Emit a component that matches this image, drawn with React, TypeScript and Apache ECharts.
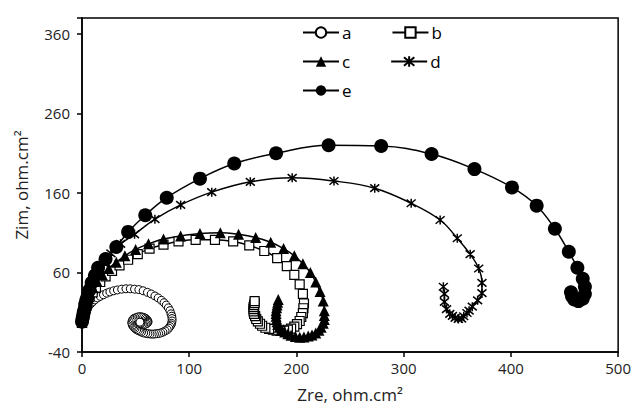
import React, { useEffect, useRef } from "react";
import * as echarts from "echarts";

// Nyquist data [Zre, Zim] in ohm.cm2
const seriesA: number[][] = [
  [0, -3], [0.5, 0], [1, 3], [1.5, 6], [2.5, 9], [3.5, 12], [5, 15], [6.5, 18], [8, 20.5], [10, 23], [12, 25.5],
  [14.5, 28], [17, 30], [20, 32], [23, 34], [26, 35.5], [29.5, 37], [33, 38], [37, 39], [41, 39.5], [45, 39.5],
  [49, 39], [53, 38.5], [57, 37], [61, 35], [64.5, 33], [68, 30.5], [71, 28], [74, 25], [76.5, 22], [78.5, 19],
  [80.5, 15.5], [82, 12], [83, 8], [83.7, 5], [84, 2], [84, -1], [83.5, -4], [83, -6], [82, -8], [81, -10],
  [79.5, -12], [77.5, -13.5], [75.5, -15], [73.5, -16], [71.5, -16.7], [69.5, -17], [67.5, -17.4], [65.5, -17.5],
  [63.5, -17.3], [61.5, -17], [59.5, -16.5], [57.5, -16], [55.5, -15], [54, -14], [52.5, -13], [51, -12],
  [49.5, -10.5], [48.5, -9], [47.5, -7.5], [47, -6], [46.5, -4], [46.5, -2.5], [47, -0.5], [47.5, 1], [48.5, 2.2],
  [50, 3], [51.5, 3.8], [53, 4.2], [54.5, 4.3], [56, 4], [57.5, 3.4], [59, 2.5], [60, 1.3], [61, 0], [61.5, -1.3],
  [61.5, -2.5], [61, -3.6], [60, -4.5], [59, -5.1], [57.5, -5.5], [56.3, -5.2], [55, -4.5], [54.4, -3.5],
  [54, -2.5],
];
const seriesB: number[][] = [
  [0, -3], [0.5, 2], [1, 7], [2, 12], [3, 17], [5, 23], [7, 29], [10, 35], [13, 41], [17, 48], [22, 55], [28, 62],
  [35, 69], [43, 76], [52, 83], [63, 90], [76, 95], [90, 99], [106, 101], [124, 101], [141, 99], [156, 94],
  [170, 87], [182, 78], [191, 68], [198, 57], [203, 45], [206, 33], [207, 21], [206.5, 15], [206, 9], [204.5, 4],
  [203, -1], [200.5, -5], [198, -8], [195, -10.5], [192, -12], [188.5, -13], [185, -13.5], [181.5, -13], [178, -12],
  [174.5, -11], [171, -9.5], [168, -7], [166, -4.5], [164, -1.5], [162.5, 1.5], [161.5, 5], [160.5, 8], [160, 11],
  [160, 14], [160, 16.5], [160.5, 19], [161, 21.5], [161, 24],
];
const seriesC: number[][] = [
  [0, -3], [0.5, 3], [1, 9], [2, 15], [3, 21], [5, 27], [7, 34], [10, 41], [14, 49], [19, 57], [25, 65], [32, 73],
  [40, 81], [50, 89], [62, 96], [76, 102], [92, 106], [110, 109], [129, 110], [146, 108], [162, 104], [176, 98],
  [188, 90], [198, 81], [206, 71], [213, 60], [218, 48], [222, 36], [225, 24], [226, 12], [226, 6], [226, 1],
  [225, -4], [223, -9], [221, -12.5], [218, -16], [214.5, -18.5], [211, -20], [207, -21], [203, -21.5], [199, -20.5],
  [195, -19], [192, -17], [189, -15], [186.5, -12], [184, -9], [182.5, -5.5], [182, -2], [181.5, 1.5], [181, 5],
  [181, 8.5], [181, 12], [181.5, 15.5], [182, 19], [182.5, 22.5], [183, 26],
];
const seriesD: number[][] = [
  [0, -3], [0.5, 1], [1, 4], [1.5, 8], [2, 11], [3, 15], [3, 19], [4, 24], [5, 28], [7, 38], [10, 48], [14, 60],
  [20, 72], [27, 84], [36, 96], [49, 108], [68, 127], [92, 145], [121, 161], [157, 174], [196, 179], [235, 175],
  [273, 166], [307, 147], [334, 126], [350, 103], [362, 83], [370, 65], [373, 47], [373, 34], [369, 25], [364, 17],
  [361, 12], [359, 9], [356, 5], [354, 2], [351, 1.5], [348, 3], [345.5, 5.5], [343, 8], [340, 14], [338, 23],
  [338, 33], [337, 42],
];
const seriesE: number[][] = [
  [0, -2], [0.5, 2], [1, 5], [1.5, 9], [2, 12], [3, 16], [3, 20], [4, 25], [5, 29], [7, 38], [9, 47], [12, 56],
  [15, 66], [22, 77], [32, 92], [43, 111], [59, 132], [79, 154], [110, 178], [142, 197], [181, 210], [230, 220],
  [279, 219], [326, 209], [366, 190], [401, 167], [424, 144], [441, 115], [454, 86], [462, 66], [467, 52],
  [469, 42], [469, 33], [467, 27], [463, 24], [459, 26], [457, 30], [456, 35],
];
const xTicks = { min: 0, max: 500, step: 100 };
const yTicks = { min: -40, max: 380, step: 100 };

const FONT = "'Open Sans', 'Noto Sans', sans-serif";
const STAR = "path://M0,0L10,10M0,10L10,0M5,-1L5,11";

export default function App() {
  const ref = useRef<HTMLDivElement>(null);
  useEffect(() => {
    if (!ref.current) return;
    const chart = echarts.init(ref.current, undefined, { renderer: "svg" });
    const line = { color: "#000", width: 1.5 };
    const mk = (name: string, data: number[][], symbol: string, size: number, fill: string, bw: number) => ({
      name,
      type: "line",
      data,
      smooth: 0.4,
      symbol,
      symbolSize: size,
      showAllSymbol: true,
      lineStyle: line,
      itemStyle: { color: fill, borderColor: "#000", borderWidth: bw },
      emphasis: { disabled: true },
    });
    const legendBase = {
      left: 297,
      itemWidth: 36,
      itemHeight: 13,
      itemGap: 40,
      textStyle: { fontFamily: FONT, fontSize: 17, color: "#000", padding: [0, 0, 0, -2] },
    };
    chart.setOption({
      animation: false,
      backgroundColor: "#fff",
      grid: { left: 82, right: 14, top: 18, bottom: 58, show: true, borderColor: "#000", borderWidth: 1.5 },
      legend: [
        { ...legendBase, data: ["a", "b"], top: 19 },
        { ...legendBase, data: ["c", "d"], top: 48 },
        { ...legendBase, data: ["e"], top: 77 },
      ],
      xAxis: {
        type: "value",
        min: xTicks.min,
        max: xTicks.max,
        interval: xTicks.step,
        name: "Zre, ohm.cm²",
        nameLocation: "middle",
        nameGap: 34,
        nameTextStyle: { fontFamily: FONT, fontSize: 17, color: "#222" },
        axisLine: { onZero: false, lineStyle: { color: "#000", width: 1.5 } },
        axisTick: { length: 5, lineStyle: { color: "#000", width: 1.5 } },
        axisLabel: { fontFamily: FONT, fontSize: 15, color: "#222", margin: 8 },
        splitLine: { show: false },
      },
      yAxis: {
        type: "value",
        min: yTicks.min,
        max: yTicks.max,
        interval: yTicks.step,
        name: "Zim, ohm.cm²",
        nameLocation: "middle",
        nameGap: 52,
        nameTextStyle: { fontFamily: FONT, fontSize: 17, color: "#222" },
        axisLine: { onZero: false, lineStyle: { color: "#000", width: 1.5 } },
        axisTick: { length: 5, lineStyle: { color: "#000", width: 1.5 } },
        axisLabel: {
          fontFamily: FONT,
          fontSize: 15,
          color: "#222",
          margin: 12,
          formatter: (v: number) => ((v - yTicks.min) % yTicks.step === 0 ? String(v) : ""),
        },
        splitLine: { show: false },
      },
      series: [
        mk("a", seriesA, "circle", 8, "#fff", 1),
        mk("b", seriesB, "rect", 9, "#fff", 1.2),
        mk("c", seriesC, "triangle", 11, "#000", 0),
        mk("d", seriesD, STAR, 9, "rgba(0,0,0,0)", 1.5),
        mk("e", seriesE, "circle", 14, "#000", 0),
      ],
    });
    return () => chart.dispose();
  }, []);
  return (
    <div
      ref={ref}
      style={{ position: "fixed", left: 0, top: 0, width: 634, height: 410, background: "#fff" }}
    />
  );
}
